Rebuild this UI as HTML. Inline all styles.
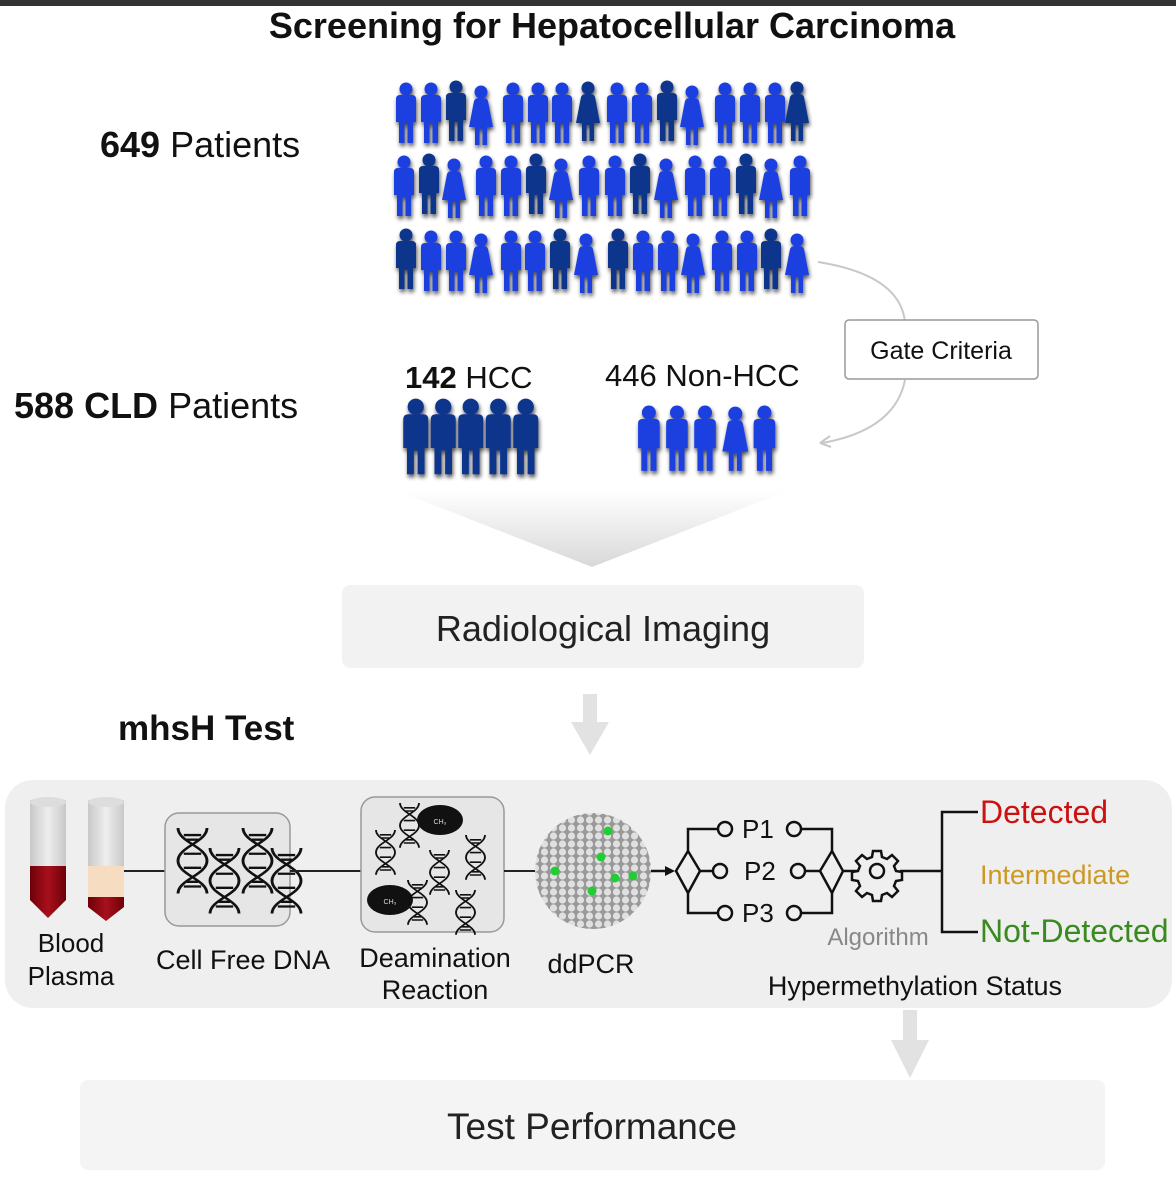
<!DOCTYPE html>
<html><head><style>
body{margin:0;background:#fff;}
svg{display:block;font-family:"Liberation Sans",Arial,sans-serif;}
</style></head><body>
<svg width="1176" height="1200" viewBox="0 0 1176 1200" xmlns="http://www.w3.org/2000/svg">
<defs>
<g id="m"><circle cx="11" cy="7" r="6.5"/><path d="M1 17 Q1 13 5 13 L17 13 Q21 13 21 17 L21 40 L18 40 L18 61 L12.5 61 L12.5 42 L9.5 42 L9.5 61 L4 61 L4 40 L1 40 Z"/></g>
<g id="f"><circle cx="11" cy="8" r="6.5"/><path d="M4 17 Q5 14 9 14 L13 14 Q17 14 18 17 L23 43 L17 43 L17 61 L12.5 61 L12.5 45 L9.5 45 L9.5 61 L5 61 L5 43 L-1 43 Z"/></g>
<filter id="sh" x="-30%" y="-10%" width="160%" height="130%"><feGaussianBlur in="SourceAlpha" stdDeviation="2"/><feOffset dx="1" dy="3"/><feComponentTransfer><feFuncA type="linear" slope="0.7"/></feComponentTransfer><feMerge><feMergeNode/><feMergeNode in="SourceGraphic"/></feMerge></filter>
<linearGradient id="fun" x1="0" y1="0" x2="0" y2="1"><stop offset="0" stop-color="#fff"/><stop offset="1" stop-color="#d8d8d8"/></linearGradient>
<linearGradient id="blood" x1="0" y1="0" x2="1" y2="0"><stop offset="0" stop-color="#6e0008"/><stop offset="0.5" stop-color="#a8101c"/><stop offset="1" stop-color="#6e0008"/></linearGradient>
<linearGradient id="tube" x1="0" y1="0" x2="1" y2="0"><stop offset="0" stop-color="#c8c8c8"/><stop offset="0.5" stop-color="#eee"/><stop offset="1" stop-color="#c8c8c8"/></linearGradient>
<g id="dna" fill="none" stroke="#111" stroke-width="2"><path d="M0 0 C0 12 20 16 20 28 C20 40 0 44 0 56"/><path d="M20 0 C20 12 0 16 0 28 C0 40 20 44 20 56"/><path d="M4 6 H16 M6 10 H14 M4 22 H16 M4 34 H16 M6 46 H14 M4 50 H16"/></g>
</defs>
<rect x="0" y="0" width="1176" height="6" fill="#333"/>
<text x="612" y="38" text-anchor="middle" font-size="36" font-weight="bold" fill="#111">Screening for Hepatocellular Carcinoma</text>
<text x="100" y="157" font-size="36" fill="#111"><tspan font-weight="bold">649</tspan> Patients</text>
<text x="14" y="418" font-size="36" fill="#111"><tspan font-weight="bold">588 CLD</tspan> Patients</text>

<g filter="url(#sh)">
<g fill="#1f3fe0">
<use href="#m" x="395" y="82"/><use href="#m" x="420" y="82"/><use href="#f" x="470" y="84"/><use href="#m" x="502" y="82"/><use href="#m" x="527" y="82"/><use href="#m" x="551" y="82"/><use href="#m" x="606" y="82"/><use href="#m" x="631" y="82"/><use href="#f" x="681" y="84"/><use href="#m" x="714" y="82"/><use href="#m" x="739" y="82"/><use href="#m" x="764" y="82"/>
</g>
<g fill="#10348c"><use href="#m" x="445" y="80"/><use href="#f" x="577" y="80"/><use href="#m" x="656" y="80"/><use href="#f" x="786" y="80"/></g>
<g fill="#1f3fe0">
<use href="#m" x="393" y="155"/><use href="#f" x="443" y="157"/><use href="#m" x="475" y="155"/><use href="#m" x="500" y="155"/><use href="#f" x="550" y="157"/><use href="#m" x="578" y="155"/><use href="#m" x="604" y="155"/><use href="#f" x="655" y="157"/><use href="#m" x="684" y="155"/><use href="#m" x="709" y="155"/><use href="#f" x="760" y="157"/><use href="#m" x="789" y="155"/>
</g>
<g fill="#10348c"><use href="#m" x="418" y="153"/><use href="#m" x="525" y="153"/><use href="#m" x="629" y="153"/><use href="#m" x="735" y="153"/></g>
<g fill="#1f3fe0">
<use href="#m" x="420" y="230"/><use href="#m" x="445" y="230"/><use href="#f" x="470" y="232"/><use href="#m" x="500" y="230"/><use href="#m" x="524" y="230"/><use href="#f" x="575" y="232"/><use href="#m" x="632" y="230"/><use href="#m" x="657" y="230"/><use href="#f" x="682" y="232"/><use href="#m" x="711" y="230"/><use href="#m" x="736" y="230"/><use href="#f" x="786" y="232"/>
</g>
<g fill="#10348c"><use href="#m" x="395" y="228"/><use href="#m" x="549" y="228"/><use href="#m" x="607" y="228"/><use href="#m" x="760" y="228"/></g>
</g>

<path d="M818 262 Q900 275 905 322" fill="none" stroke="#c8c8c8" stroke-width="2"/>
<path d="M905 380 Q895 430 822 443" fill="none" stroke="#c8c8c8" stroke-width="2"/>
<path d="M820 443 l10 -7 M820 443 l11 4" stroke="#c8c8c8" stroke-width="2" fill="none"/>
<rect x="845" y="320" width="193" height="59" rx="4" fill="#fff" stroke="#999" stroke-width="1.5"/>
<text x="941" y="359" text-anchor="middle" font-size="25" fill="#111">Gate Criteria</text>

<text x="405" y="388" font-size="31" fill="#111"><tspan font-weight="bold">142</tspan> HCC</text>
<text x="605" y="386" font-size="31" fill="#111">446 Non-HCC</text>

<polygon points="395,490 790,490 592,567" fill="url(#fun)"/>
<g filter="url(#sh)">
<g fill="#10348c" transform="translate(402,398) scale(1.25)">
<use href="#m" x="0" y="0"/><use href="#m" x="22" y="0"/><use href="#m" x="44" y="0"/><use href="#m" x="66" y="0"/><use href="#m" x="88" y="0"/>
</g>
<g fill="#1f3fe0" transform="translate(637,405) scale(1.08)">
<use href="#m" x="0" y="0"/><use href="#m" x="26" y="0"/><use href="#m" x="52" y="0"/><use href="#f" x="80" y="0"/><use href="#m" x="107" y="0"/>
</g>
</g>

<rect x="342" y="585" width="522" height="83" rx="8" fill="#f2f2f2"/>
<text x="603" y="641" text-anchor="middle" font-size="36" fill="#222">Radiological Imaging</text>
<path d="M583 694 h14 v28 h12 l-19 33 l-19 -33 h12 z" fill="#e2e2e2"/>
<text x="118" y="740" font-size="35" font-weight="bold" fill="#111">mhsH Test</text>

<rect x="5" y="780" width="1167" height="228" rx="28" fill="#efefef"/>
<rect x="30" y="800" width="36" height="72" fill="url(#tube)"/>
<ellipse cx="48" cy="802" rx="18" ry="5" fill="#ddd"/>
<path d="M30 866 h36 v34 l-18 18 l-18 -18 z" fill="url(#blood)"/>
<rect x="88" y="800" width="36" height="72" fill="url(#tube)"/>
<ellipse cx="106" cy="802" rx="18" ry="5" fill="#ddd"/>
<rect x="88" y="866" width="36" height="32" fill="#f6dcc0"/>
<path d="M88 897 h36 v10 l-18 14 l-18 -14 z" fill="url(#blood)"/>
<text x="71" y="952" text-anchor="middle" font-size="26" fill="#111">Blood</text>
<text x="71" y="985" text-anchor="middle" font-size="26" fill="#111">Plasma</text>
<line x1="124" y1="871" x2="165" y2="871" stroke="#222" stroke-width="2"/>
<rect x="165" y="813" width="125" height="113" rx="14" fill="#e6e6e6" stroke="#999" stroke-width="1.5"/>
<use href="#dna" transform="translate(178,828) scale(1.45,1.17)"/><use href="#dna" transform="translate(210,848) scale(1.45,1.17)"/><use href="#dna" transform="translate(243,828) scale(1.45,1.17)"/><use href="#dna" transform="translate(272,848) scale(1.45,1.17)"/>
<text x="243" y="969" text-anchor="middle" font-size="27" fill="#111">Cell Free DNA</text>
<line x1="290" y1="871" x2="361" y2="871" stroke="#222" stroke-width="2"/>
<rect x="361" y="797" width="143" height="135" rx="14" fill="#e6e6e6" stroke="#999" stroke-width="1.5"/>
<use href="#dna" transform="translate(376,830) scale(0.95,0.8)"/><use href="#dna" transform="translate(400,803) scale(0.95,0.8)"/><use href="#dna" transform="translate(430,850) scale(0.95,0.8)"/><use href="#dna" transform="translate(466,835) scale(0.95,0.8)"/><use href="#dna" transform="translate(408,880) scale(0.95,0.8)"/><use href="#dna" transform="translate(456,890) scale(0.95,0.8)"/>
<ellipse cx="440" cy="820" rx="23" ry="15" fill="#111"/>
<ellipse cx="390" cy="900" rx="23" ry="15" fill="#111"/>
<text x="440" y="824" text-anchor="middle" font-size="7" fill="#ddd">CH₃</text>
<text x="390" y="904" text-anchor="middle" font-size="7" fill="#ddd">CH₃</text>
<text x="435" y="967" text-anchor="middle" font-size="27" fill="#111">Deamination</text>
<text x="435" y="999" text-anchor="middle" font-size="27" fill="#111">Reaction</text>
<line x1="504" y1="871" x2="535" y2="871" stroke="#222" stroke-width="2"/>
<defs><pattern id="hex" width="9" height="8" patternUnits="userSpaceOnUse"><rect width="9" height="8" fill="#999"/><circle cx="4.5" cy="4" r="3.6" fill="#e0e0e0"/></pattern></defs>
<circle cx="593" cy="871" r="58" fill="url(#hex)"/>
<g fill="#22cc33"><circle cx="608" cy="831" r="4.5"/><circle cx="601" cy="857" r="4.5"/><circle cx="555" cy="871" r="4.5"/><circle cx="615" cy="878" r="4.5"/><circle cx="633" cy="876" r="4.5"/><circle cx="592" cy="891" r="4.5"/></g>
<text x="591" y="973" text-anchor="middle" font-size="27" fill="#111">ddPCR</text>
<g stroke="#111" stroke-width="2.5" fill="none">
<line x1="651" y1="871" x2="672" y2="871"/>
<polygon points="688,851 700,871 688,893 676,871"/>
<path d="M688 851 V829 H718 M700 871 H718 M688 893 V913 H718"/>
<circle cx="725" cy="829" r="7" fill="#efefef"/><circle cx="720" cy="871" r="7" fill="#efefef"/><circle cx="725" cy="913" r="7" fill="#efefef"/>
<circle cx="794" cy="829" r="7" fill="#efefef"/><circle cx="798" cy="871" r="7" fill="#efefef"/><circle cx="794" cy="913" r="7" fill="#efefef"/>
<path d="M801 829 H832 V851 M805 871 H820 M801 913 H832 V893"/>
<polygon points="832,851 843,871 832,893 820,871"/>
<line x1="843" y1="871" x2="857" y2="871"/>
<line x1="900" y1="871" x2="942" y2="871"/>
<path d="M978 812 H942 V932 H978"/>
</g>
<path d="M665 866 l10 5 l-10 5 z" fill="#111"/>
<g transform="translate(877,871)" fill="none" stroke="#111" stroke-width="2.5">
<path d="M-4 -20 h8 l1 6 l5 2 l5 -4 l6 6 l-4 5 l2 5 l6 1 v8 l-6 1 l-2 5 l4 5 l-6 6 l-5 -4 l-5 2 l-1 6 h-8 l-1 -6 l-5 -2 l-5 4 l-6 -6 l4 -5 l-2 -5 l-6 -1 v-8 l6 -1 l2 -5 l-4 -5 l6 -6 l5 4 l5 -2 z"/>
<circle r="7"/>
</g>
<g font-size="26" fill="#111"><text x="742" y="838">P1</text><text x="744" y="880">P2</text><text x="742" y="922">P3</text></g>
<text x="878" y="945" text-anchor="middle" font-size="24" fill="#888">Algorithm</text>
<text x="980" y="823" font-size="32" fill="#cc1111">Detected</text>
<text x="980" y="884" font-size="27" fill="#cc9922">Intermediate</text>
<text x="980" y="942" font-size="32" fill="#3a8a20">Not-Detected</text>
<text x="915" y="995" text-anchor="middle" font-size="27" fill="#111">Hypermethylation Status</text>

<path d="M903 1010 h14 v30 h12 l-19 38 l-19 -38 h12 z" fill="#e2e2e2"/>
<rect x="80" y="1080" width="1025" height="90" rx="8" fill="#f4f4f4"/>
<text x="592" y="1139" text-anchor="middle" font-size="37" fill="#222">Test Performance</text>
</svg>
</body></html>
